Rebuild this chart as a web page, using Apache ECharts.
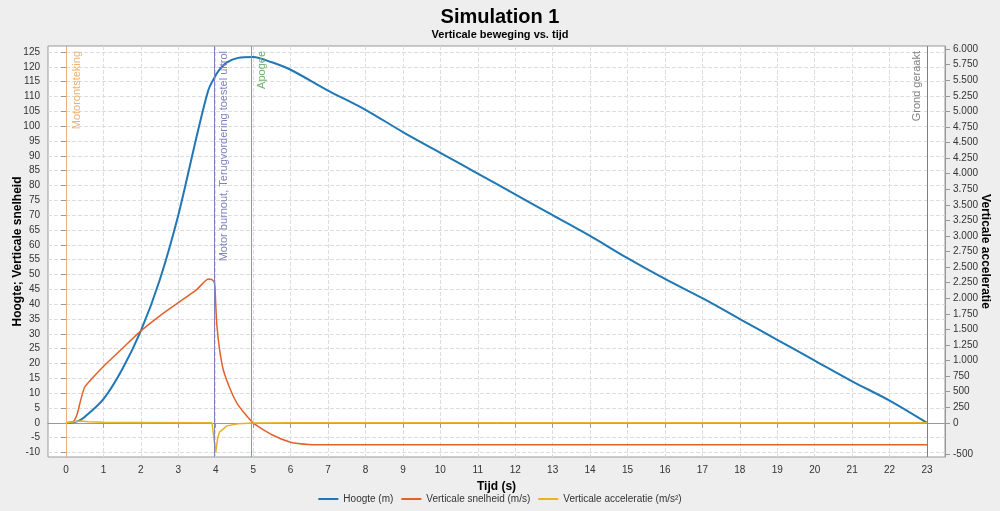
<!DOCTYPE html>
<html><head><meta charset="utf-8">
<script src="https://cdn.jsdelivr.net/npm/echarts@6/dist/echarts.min.js"></script>
<style>html,body{margin:0;background:#eeeeee}#c{width:1000px;height:511px}</style>
</head><body><div id="c"></div>
<script>
const hoogte = [[0,0],[0.3,0.5],[0.5,2],[1,8],[1.5,18],[2,31],[2.5,48],[3,70],[3.5,97],[3.8,112],[3.95,116],[4.1,119],[4.3,121.5],[4.6,123],[5,123.3],[5.5,121.5],[6,119],[7,112],[8,105.5],[9,98],[10,91],[11,84],[12,77],[13,70],[14,63],[15,55.5],[16,48.5],[17,42],[18,35],[19,28],[20,21],[21,14],[22,7.5],[23,0]];
const snelheid = [[0,0],[0.2,0.5],[0.3,3],[0.4,8],[0.5,12],[0.7,15],[1,19],[1.5,25],[2,31],[2.5,36],[3,40.5],[3.5,45],[3.8,48.5],[3.9,48.3],[3.97,47],[4.0,40],[4.03,33],[4.1,25],[4.2,18],[4.4,11],[4.6,6],[5,0],[5.5,-4],[6,-6.5],[6.5,-7.3],[7,-7.4],[23,-7.4]];
const acceleratie = [[0,0],[0.25,20],[0.4,30],[0.6,15],[1,10],[2,5],[3.9,0],[3.95,-10],[4.0,-480],[4.05,-250],[4.1,-150],[4.3,-50],[4.6,-15],[5,-5],[6,0],[23,0]];
const xTicks = Array.from({length:24},(_,i)=>i);
const leftTicks = Array.from({length:28},(_,i)=>-10+5*i);
const rightTicks = [-500,0,250,500,750,1000,1250,1500,1750,2000,2250,2500,2750,3000,3250,3500,3750,4000,4250,4500,4750,5000,5250,5500,5750,6000];
const events = [[0,'Motorontsteking','#f0b070','insideEndBottom'],[3.95,'Motor burnout, Terugvordering toestel uitrol','#8080c0','insideEndBottom'],[4.95,'Apogee','#70b070','insideEndBottom'],[23,'Grond geraakt','#808080','insideEndTop']];
const fmt = v => Math.abs(v)>=1000 ? (v/1000).toFixed(3) : String(v);
const F = 'Liberation Sans';
const grid = {left:48,right:55,top:46,bottom:54,outerBoundsMode:'none',containLabel:false,show:true,backgroundColor:'#fff',borderColor:'#999',borderWidth:1};
const split = {show:true,lineStyle:{type:'dashed',color:'#ddd'}};
const lab = {fontSize:10,color:'#333',fontFamily:F};
echarts.init(document.getElementById('c')).setOption({
  backgroundColor:'#eeeeee',
  animation:false,
  textStyle:{fontFamily:F},
  title:{text:'Simulation 1',subtext:'Verticale beweging vs. tijd',left:'center',top:2,itemGap:2,
    textStyle:{fontSize:20,fontWeight:'bold',color:'#000',fontFamily:F},
    subtextStyle:{fontSize:11,fontWeight:'bold',color:'#000',fontFamily:F}},
  legend:{bottom:2,itemWidth:20,itemHeight:2,icon:'rect',textStyle:{fontSize:10,color:'#333',fontFamily:F}},
  grid,
  xAxis:{type:'value',min:-0.48,max:23.48,name:'Tijd (s)',nameLocation:'middle',nameGap:24,nameMoveOverlap:false,
    nameTextStyle:{fontSize:12,fontWeight:'bold',color:'#000',fontFamily:F},
    axisLine:{lineStyle:{color:'#999'}},axisTick:{customValues:xTicks,lineStyle:{color:'#999'}},
    axisLabel:{...lab,customValues:xTicks},splitLine:{...split}},
  yAxis:[{type:'value',min:-11.5,max:127,name:'Hoogte; Verticale snelheid',nameLocation:'middle',nameGap:24,nameMoveOverlap:false,
    nameTextStyle:{fontSize:12,fontWeight:'bold',color:'#000',fontFamily:F},
    axisLine:{show:true,lineStyle:{color:'#999'}},axisTick:{show:true,customValues:leftTicks,lineStyle:{color:'#999'}},
    axisLabel:{...lab,customValues:leftTicks},splitLine:{...split}},
   {type:'value',min:-550,max:6050,name:'Verticale acceleratie',nameLocation:'middle',nameGap:34,nameRotate:-90,nameMoveOverlap:false,
    nameTextStyle:{fontSize:12,fontWeight:'bold',color:'#000',fontFamily:F},
    axisLine:{show:true,lineStyle:{color:'#999'}},axisTick:{show:true,customValues:rightTicks,lineStyle:{color:'#999'}},
    axisLabel:{...lab,customValues:rightTicks,formatter:fmt},splitLine:{show:false}}],
  series:[
    {name:'Hoogte (m)',type:'line',data:hoogte,showSymbol:false,smooth:0.3,color:'#1f77b4',lineStyle:{width:2},
     markLine:{silent:true,symbol:'none',data:events.map(e=>({xAxis:e[0],lineStyle:{color:e[2],type:'solid',width:1},
       label:{formatter:e[1],position:e[3],color:e[2],fontSize:11,fontFamily:F}}))}},
    {name:'Verticale snelheid (m/s)',type:'line',data:snelheid,showSymbol:false,smooth:0.2,color:'#e0622a',lineStyle:{width:1.5}},
    {name:'Verticale acceleratie (m/s²)',type:'line',yAxisIndex:1,data:acceleratie,showSymbol:false,color:'#e6b422',lineStyle:{width:1.5}}
  ]
});
</script></body></html>
